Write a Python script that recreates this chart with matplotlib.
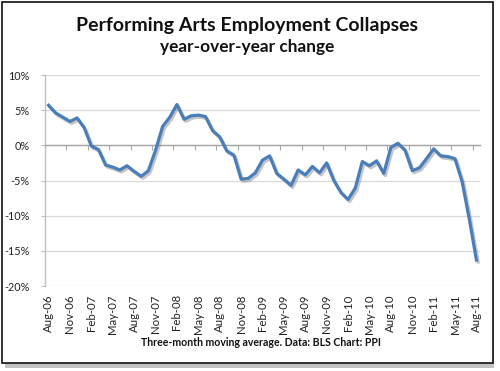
import matplotlib
matplotlib.use("Agg")
import matplotlib.pyplot as plt
import matplotlib.patheffects as pe
from matplotlib.patches import Rectangle
import numpy as np

# monthly, Aug-06 .. Aug-11, % change year over year (3-month moving average)
months = [
    "Aug-06", "Sep-06", "Oct-06", "Nov-06", "Dec-06", "Jan-07", "Feb-07", "Mar-07",
    "Apr-07", "May-07", "Jun-07", "Jul-07", "Aug-07", "Sep-07", "Oct-07", "Nov-07",
    "Dec-07", "Jan-08", "Feb-08", "Mar-08", "Apr-08", "May-08", "Jun-08", "Jul-08",
    "Aug-08", "Sep-08", "Oct-08", "Nov-08", "Dec-08", "Jan-09", "Feb-09", "Mar-09",
    "Apr-09", "May-09", "Jun-09", "Jul-09", "Aug-09", "Sep-09", "Oct-09", "Nov-09",
    "Dec-09", "Jan-10", "Feb-10", "Mar-10", "Apr-10", "May-10", "Jun-10", "Jul-10",
    "Aug-10", "Sep-10", "Oct-10", "Nov-10", "Dec-10", "Jan-11", "Feb-11", "Mar-11",
    "Apr-11", "May-11", "Jun-11", "Jul-11", "Aug-11",
]
yoy_change = [
    5.7, 4.6, 4.0, 3.4, 3.9, 2.5, -0.1, -0.6,
    -2.8, -3.1, -3.5, -2.9, -3.7, -4.4, -3.6, -0.7,
    2.7, 4.0, 5.8, 3.7, 4.2, 4.3, 4.1, 2.1,
    1.2, -0.8, -1.4, -4.8, -4.7, -3.9, -2.1, -1.5,
    -4.0, -4.8, -5.7, -3.5, -4.2, -3.0, -3.9, -2.5,
    -5.0, -6.7, -7.7, -6.1, -2.3, -2.9, -2.2, -4.0,
    -0.3, 0.3, -0.7, -3.6, -3.2, -1.9, -0.5, -1.5,
    -1.6, -1.9, -5.2, -10.5, -16.3,
]
y_ticks = [10, 5, 0, -5, -10, -15, -20]

FONT = ["Lato", "DejaVu Sans"]
plt.rcParams["font.family"] = FONT

fig = plt.figure(figsize=(5.0, 3.71), dpi=100)

# frame with drop shadow (behind everything)
fig.patches.append(Rectangle((0.010, 0.008), 0.978, 0.972, transform=fig.transFigure,
                             facecolor="#9a9a9a", edgecolor="none", alpha=0.6, zorder=-3))
fig.patches.append(Rectangle((0.004, 0.0216), 0.982, 0.973, transform=fig.transFigure,
                             facecolor="white", edgecolor="#111111", lw=1.2, zorder=-2))

ax = fig.add_axes([0.09, 0.2291, 0.87, 0.5687])
ax.patch.set_visible(False)

x = np.arange(len(months))
ax.plot(x, yoy_change, color="#4A7EBB", lw=2.3, solid_joinstyle="round",
        path_effects=[pe.SimpleLineShadow(offset=(1.2, -1.5), shadow_color="#7f7f7f", alpha=0.45),
                      pe.Normal()], zorder=5)

ax.set_xlim(-0.5, len(months) - 0.5)
ax.set_ylim(-20, 10)
ax.set_yticks(y_ticks)
ax.set_yticklabels([f"{v}%" for v in y_ticks], fontsize=7.8)
ax.grid(axis="y", color="#d9d9d9", lw=0.9)
ax.set_axisbelow(True)
for s in ["top", "right"]:
    ax.spines[s].set_visible(False)
ax.spines["left"].set_color("#bfbfbf")
ax.spines["left"].set_linewidth(1.0)
ax.tick_params(axis="y", length=3, color="#bfbfbf", pad=8, labelcolor="#222222")

# category axis crosses at 0 with ticks between categories
ax.spines["bottom"].set_position(("data", 0))
ax.spines["bottom"].set_color("#a6a6a6")
ax.spines["bottom"].set_linewidth(1.0)
ax.set_xticks(np.arange(-0.5, len(months), 3))
ax.tick_params(axis="x", length=3.5, color="#a6a6a6", labelbottom=False)

sec = ax.secondary_xaxis("bottom")
sec.set_xticks(x[::3])
sec.set_xticklabels(months[::3], rotation=90, fontsize=8.2, color="#222222")
sec.tick_params(length=0, pad=6)
sec.spines["bottom"].set_visible(False)

fig.text(0.494, 0.93, "Performing Arts Employment Collapses", ha="center", va="center",
         fontsize=14, fontweight="bold", color="#111111")
fig.text(0.494, 0.873, "year-over-year change", ha="center", va="center",
         fontsize=12.4, fontweight="bold", color="#111111")
fig.text(0.522, 0.078, "Three-month moving average. Data: BLS Chart: PPI", ha="center",
         va="center", fontsize=7.6, fontweight="bold", color="#111111")

fig.savefig("out.png", dpi=100)
